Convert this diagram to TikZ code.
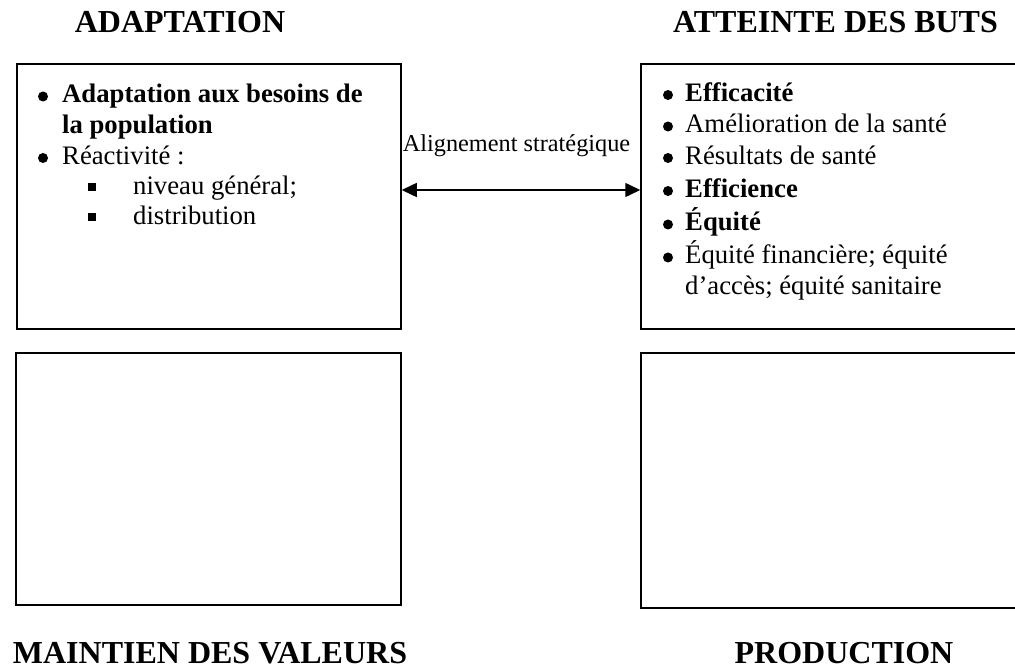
\documentclass[tikz,border=0pt]{standalone}
\usepackage{fontspec}
\setmainfont{Liberation Serif}
\usetikzlibrary{arrows.meta}
\begin{document}
\begin{tikzpicture}[x=1pt,y=-1pt,
  box/.style={draw,line width=1.5pt,inner sep=0pt,minimum width=#1},
  ttl/.style={anchor=base,inner sep=0pt,font=\fontsize{32}{32}\selectfont\bfseries},
  txt/.style={anchor=base west,inner sep=0pt,font=\fontsize{26.7}{31}\selectfont},
  btxt/.style={txt,font=\fontsize{26.7}{31}\selectfont\bfseries},
  dot/.style={circle,fill=black,inner sep=0pt,minimum size=10pt},
  sq/.style={fill=black,inner sep=0pt,minimum size=8pt},
  conn/.style={line width=1.5pt,{Triangle[length=15pt,width=14pt]}-{Triangle[length=15pt,width=14pt]}}]
\useasboundingbox (0,0) rectangle (1015,668);
% titles
\node[ttl] (t1) at (180,33) {ADAPTATION};
\node[ttl] (t2) at (835.5,33) {ATTEINTE DES BUTS};
\node[ttl] (t3) at (210,663) {MAINTIEN DES VALEURS};
\node[ttl] (t4) at (844,663) {PRODUCTION};
% boxes
\node[box=384pt,minimum height=265pt] (tl) at (209,196.5) {};
\node[box=390pt,minimum height=265pt] (tr) at (836,196.5) {};
\node[box=385pt,minimum height=252pt] (bl) at (208.5,479) {};
\node[box=390pt,minimum height=255pt] (br) at (836,480.5) {};
% left box content
\node[dot] (lb1) at (43,96.5) {};
\node[btxt] (l1) at (62,103) {Adaptation aux besoins de};
\node[btxt] (l2) at (62,133.5) {la population};
\node[dot] (lb2) at (43,158) {};
\node[txt] (l3) at (62,164.5) {Réactivité :};
\node[sq] (s1) at (92,187) {};
\node[txt] (l4) at (133,195) {niveau général;};
\node[sq] (s2) at (92,217) {};
\node[txt] (l5) at (133,225) {distribution};
% right box content
\node[dot] (rb1) at (668,95) {};
\node[btxt] (r1) at (685,101.5) {Efficacité};
\node[dot] (rb2) at (668,126.5) {};
\node[txt] (r2) at (685,133) {Amélioration de la santé};
\node[dot] (rb3) at (668,158) {};
\node[txt] (r3) at (685,164.5) {Résultats de santé};
\node[dot] (rb4) at (668,191) {};
\node[btxt] (r4) at (685,197.5) {Efficience};
\node[dot] (rb5) at (668,224.5) {};
\node[btxt] (r5) at (685,231) {Équité};
\node[dot] (rb6) at (668,257.5) {};
\node[txt] (r6) at (685,264) {Équité financière; équité};
\node[txt] (r7) at (685,294.5) {d’accès; équité sanitaire};
% connector
\node[anchor=base,inner sep=0pt,font=\fontsize{24.3}{28}\selectfont] (al) at (516.5,152) {Alignement stratégique};
\draw[conn] ([yshift=6.5pt]tl.east) -- ([yshift=6.5pt]tr.west);
\end{tikzpicture}
\end{document}
